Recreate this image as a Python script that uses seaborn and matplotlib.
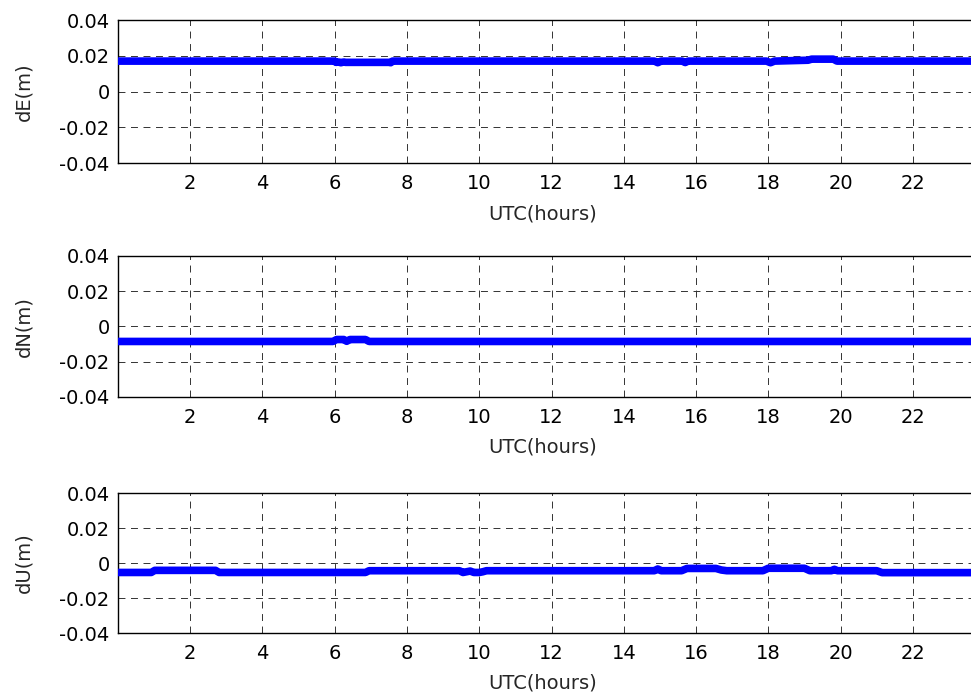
import numpy as np
import matplotlib
matplotlib.use('Agg')
import matplotlib.pyplot as plt
import seaborn as sns
from matplotlib.ticker import FuncFormatter

sns.set_style('white')
plt.rcParams['font.family'] = ['DejaVu Sans']
plt.rcParams['axes.unicode_minus'] = False
plt.rcParams['lines.scale_dashes'] = False

# Dados (pontos de quebra)
dE_t = [0, 6.0, 6.03, 6.1, 6.17, 6.25, 6.3, 7.5, 7.55, 7.6, 14.85, 14.94, 15.03,
        15.62, 15.7, 15.78, 17.95, 18.06, 18.17, 19.1, 19.2, 19.8, 19.9, 24]
dE_v = [0.0171, 0.0171, 0.0164, 0.0166, 0.0162, 0.0166, 0.0164, 0.0164, 0.0162, 0.0171,
        0.0171, 0.0162, 0.0171, 0.0171, 0.0163, 0.0171, 0.0171, 0.0162, 0.0171,
        0.0176, 0.0182, 0.0182, 0.0171, 0.0171]

dN_t = [0, 5.95, 6.05, 6.25, 6.33, 6.42, 6.85, 6.95, 24]
dN_v = [-0.0085, -0.0085, -0.0074, -0.0074, -0.0084, -0.0074, -0.0074, -0.0085, -0.0085]

dU_t = [0, 0.92, 1.02, 2.7, 2.8, 6.85, 6.95, 9.45, 9.55, 9.75, 9.85, 10.0, 10.1, 10.2,
        14.85, 14.94, 15.03, 15.6, 15.75, 16.55, 16.7, 16.85, 17.85, 18.0, 19.0, 19.15,
        19.75, 19.83, 19.91, 21.0, 21.15, 24]
dU_v = [-0.0054, -0.0054, -0.0042, -0.0042, -0.0054, -0.0054, -0.0044, -0.0044, -0.0054,
        -0.0046, -0.0054, -0.0054, -0.0050, -0.0044, -0.0044, -0.0034, -0.0044, -0.0044,
        -0.0031, -0.0031, -0.0040, -0.0044, -0.0044, -0.0030, -0.0030, -0.0044, -0.0044,
        -0.0036, -0.0044, -0.0044, -0.0055, -0.0055]

series = [('dE(m)', dE_t, dE_v), ('dN(m)', dN_t, dN_v), ('dU(m)', dU_t, dU_v)]

xticks = [2, 4, 6, 8, 10, 12, 14, 16, 18, 20, 22]
yticks = [-0.04, -0.02, 0, 0.02, 0.04]

fig = plt.figure(figsize=(9.71, 7.0), dpi=100)
# posições dos eixos (o eixo direito fica cortado como no original)
pos = [[0.1215, 0.7671, 0.893, 0.204],
       [0.1215, 0.4329, 0.893, 0.2014],
       [0.1215, 0.0957, 0.893, 0.2000]]

for (nome, t, v), p in zip(series, pos):
    ax = fig.add_axes(p)
    sns.lineplot(x=t, y=v, ax=ax, color=(0, 0, 1), linewidth=5.5,
                 estimator=None, sort=False,
                 solid_joinstyle='round', solid_capstyle='round', zorder=3)
    ax.set_xlim(0, 24)
    ax.set_ylim(-0.04, 0.04)
    ax.set_xticks(xticks)
    ax.set_yticks(yticks)
    ax.yaxis.set_major_formatter(FuncFormatter(lambda y, pos: f'{y:g}'))
    ax.grid(True, color='0.2', linewidth=0.7, linestyle=(0, (5, 4)), zorder=1)
    ax.tick_params(direction='in', length=4, width=0.8, labelsize=14,
                   colors='black')
    ax.tick_params(axis='x', pad=8)
    ax.tick_params(axis='y', pad=6)
    for s in ax.spines.values():
        s.set_color('black')
        s.set_linewidth(1.0)
    ax.set_xlabel('UTC(hours)', fontsize=14)
    ax.set_ylabel(nome, fontsize=14)
    ax.xaxis.set_label_coords(0.49, -0.29)
    ax.yaxis.set_label_coords(-0.098, 0.5)

plt.savefig('out.png', dpi=100)
